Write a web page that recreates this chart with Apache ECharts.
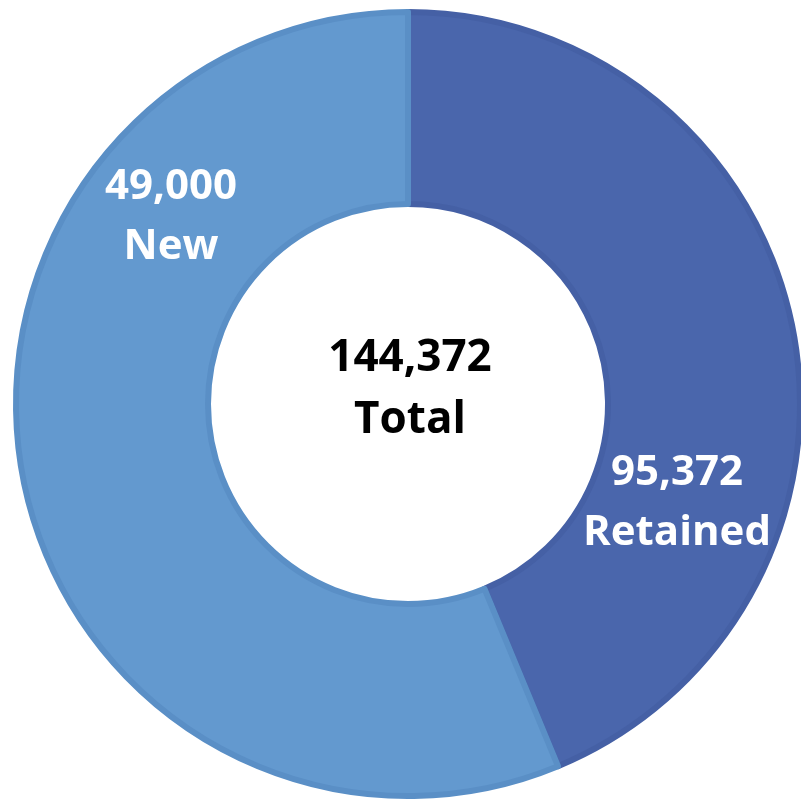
<!DOCTYPE html>
<html>
<head>
<meta charset="utf-8">
<script src="https://cdn.jsdelivr.net/npm/echarts@6/dist/echarts.min.js"></script>
<style>
html,body{margin:0;padding:0;background:#fff;}
#chart{width:801px;height:804px;}
</style>
</head>
<body>
<div id="chart"></div>
<script>
// Data
const categories = ['Retained', 'New'];
const labelValues = [95372, 49000];        // values printed on the slices
const sliceShares = [43.75, 56.25];        // share of the ring each slice covers in the picture (%)
const totalValue = 144372;
const totalLabel = 'Total';

const fills = ['#4a66ac', '#6399cf'];
const edges = ['#4560a5', '#5a8fc6'];

const fmt = v => v.toLocaleString('en-US');
const FONT = '"Open Sans", Lato, sans-serif';

const chart = echarts.init(document.getElementById('chart'), null, {renderer: 'canvas'});

const labelPos = [
  {x: 677, y: 503},
  {x: 171, y: 217}
];

chart.setOption({
  animation: false,
  series: [{
    type: 'pie',
    center: [408, 404],
    radius: [200, 392],
    startAngle: 90,
    clockwise: true,
    avoidLabelOverlap: false,
    label: {show: false},
    labelLine: {show: false},
    emphasis: {disabled: true},
    data: categories.map((c, i) => ({
      name: c,
      value: sliceShares[i],
      itemStyle: {color: fills[i], borderColor: edges[i], borderWidth: 6}
    }))
  }],
  graphic: [
    ...categories.map((c, i) => ({
      type: 'text',
      z: 100,
      x: labelPos[i].x,
      y: labelPos[i].y,
      style: {
        text: fmt(labelValues[i]) + '\n' + c,
        fill: '#ffffff',
        font: 'bold 42px ' + FONT,
        lineHeight: 60,
        align: 'center',
        verticalAlign: 'middle'
      }
    })),
    {
      type: 'text',
      z: 100,
      x: 410,
      y: 389,
      style: {
        text: fmt(totalValue) + '\n' + totalLabel,
        fill: '#000000',
        font: 'bold 44px ' + FONT,
        lineHeight: 62,
        align: 'center',
        verticalAlign: 'middle'
      }
    }
  ]
});
</script>
</body>
</html>
